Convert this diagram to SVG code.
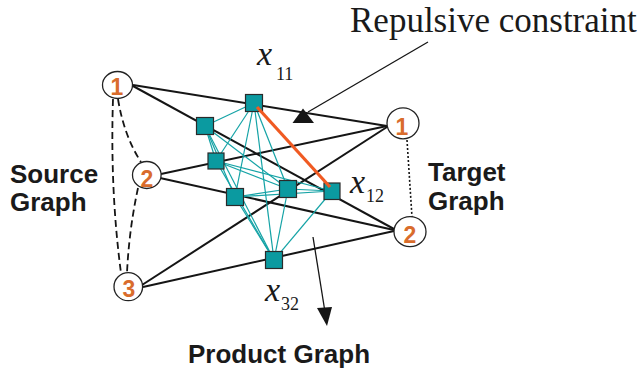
<svg xmlns="http://www.w3.org/2000/svg" width="642" height="368" viewBox="0 0 642 368">
<style>
.blk{stroke:#151515;stroke-width:2;fill:none}
.tl{stroke:#15a3a6;stroke-width:1.2;fill:none}
.dash{stroke:#151515;stroke-width:1.8;fill:none;stroke-dasharray:7,4}
.circ{fill:#fff;stroke:#222;stroke-width:1.3}
.sq{fill:#0b9aa0;stroke:#2a2a2a;stroke-width:1.2}
.num{font-family:"Liberation Sans",Arial,sans-serif;font-weight:bold;font-size:23px;fill:#d96c2c;text-anchor:middle}
.lbl{font-family:"Liberation Sans",Arial,sans-serif;font-weight:bold;font-size:26px;fill:#1a1a1a}
.xv{font-family:"Liberation Serif","Times New Roman",serif;font-style:italic;font-size:34px;fill:#1a1a1a}
.sub{font-family:"Liberation Serif","Times New Roman",serif;font-size:18px;fill:#1a1a1a}
</style>
<g id="connectors">
  <line class="blk" x1="133" y1="85" x2="387" y2="126"/>
  <line class="blk" x1="133" y1="86" x2="394" y2="229"/>
  <line class="blk" x1="161" y1="174" x2="387" y2="126"/>
  <line class="blk" x1="160" y1="178" x2="394" y2="230"/>
  <line class="blk" x1="142" y1="285" x2="387" y2="127"/>
  <line class="blk" x1="143" y1="287" x2="394" y2="231"/>
  <path class="dash" d="M113,99 Q110,190 121,273"/>
  <path class="dash" d="M118,99 Q124,136 141,162"/>
  <path class="dash" d="M138,188 Q129,230 127,273"/>
  <line x1="407" y1="140" x2="412" y2="217" stroke="#151515" stroke-width="1.6" stroke-dasharray="2,2"/>
  <line class="tl" x1="254" y1="103" x2="205" y2="126"/>
  <line class="tl" x1="254" y1="103" x2="216" y2="161"/>
  <line class="tl" x1="254" y1="103" x2="235" y2="197"/>
  <line class="tl" x1="254" y1="103" x2="288" y2="189"/>
  <line class="tl" x1="254" y1="103" x2="274" y2="260"/>
  <line class="tl" x1="205" y1="126" x2="216" y2="161"/>
  <line class="tl" x1="205" y1="126" x2="235" y2="197"/>
  <line class="tl" x1="205" y1="126" x2="288" y2="189"/>
  <line class="tl" x1="205" y1="126" x2="274" y2="260"/>
  <line class="tl" x1="216" y1="161" x2="288" y2="189"/>
  <line class="tl" x1="216" y1="161" x2="332" y2="191"/>
  <line class="tl" x1="216" y1="161" x2="274" y2="260"/>
  <line class="tl" x1="235" y1="197" x2="288" y2="189"/>
  <line class="tl" x1="235" y1="197" x2="332" y2="191"/>
  <line class="tl" x1="235" y1="197" x2="274" y2="260"/>
  <line class="tl" x1="288" y1="189" x2="332" y2="191"/>
  <line class="tl" x1="288" y1="189" x2="274" y2="260"/>
  <line class="tl" x1="332" y1="191" x2="274" y2="260"/>
  <line x1="428" y1="42" x2="308" y2="112" stroke="#151515" stroke-width="1.3"/>
  <polygon points="303,108.5 292.5,123 314,123" fill="#151515"/>
  <line x1="313" y1="237" x2="325" y2="312" stroke="#151515" stroke-width="1.3"/>
  <polygon points="327,326 317,308 332,307" fill="#151515"/>
</g>
<g id="s1"><ellipse class="circ" cx="117.5" cy="85" rx="15" ry="13.5"/><text class="num" x="117" y="95">1</text></g>
<g id="s2"><ellipse class="circ" cx="146.8" cy="175" rx="14.3" ry="13.5"/><text class="num" x="147" y="187">2</text></g>
<g id="s3"><ellipse class="circ" cx="128.3" cy="286.7" rx="14.3" ry="14"/><text class="num" x="129" y="297">3</text></g>
<g id="t1"><ellipse class="circ" cx="403" cy="123.3" rx="16" ry="15.5"/><text class="num" x="402" y="135">1</text></g>
<g id="t2"><ellipse class="circ" cx="410" cy="231.7" rx="16" ry="15"/><text class="num" x="410" y="243">2</text></g>
<g id="p11"><rect class="sq" x="245.5" y="94.5" width="17" height="17"/></g>
<g id="pA"><rect class="sq" x="196.5" y="117.5" width="17" height="17"/></g>
<g id="pB"><rect class="sq" x="208" y="153" width="16" height="16"/></g>
<g id="pC"><rect class="sq" x="226.5" y="188.5" width="17" height="17"/></g>
<g id="pD"><rect class="sq" x="279.5" y="180.5" width="17" height="17"/></g>
<g id="p12"><rect class="sq" x="324" y="183" width="16" height="16.5"/></g>
<g id="p32"><rect class="sq" x="265.5" y="251.5" width="17" height="17"/></g>
<g id="repulsive-edge"><line x1="257" y1="107" x2="330" y2="187" stroke="#f05a22" stroke-width="3.2"/></g>
<g id="labels">
  <text x="350" y="32" font-family="'Liberation Serif','Times New Roman',serif" font-size="35" fill="#1a1a1a">Repulsive constraint</text>
  <text class="xv" x="257" y="65">x</text><text class="sub" x="276" y="80">11</text>
  <text class="xv" x="350" y="193">x</text><text class="sub" x="366" y="202">12</text>
  <text class="xv" x="265" y="301">x</text><text class="sub" x="281" y="310">32</text>
  <text class="lbl" x="10" y="183">Source</text>
  <text class="lbl" x="10" y="211">Graph</text>
  <text class="lbl" x="428" y="181">Target</text>
  <text class="lbl" x="428" y="210">Graph</text>
  <text class="lbl" x="188" y="363">Product Graph</text>
</g>
</svg>
